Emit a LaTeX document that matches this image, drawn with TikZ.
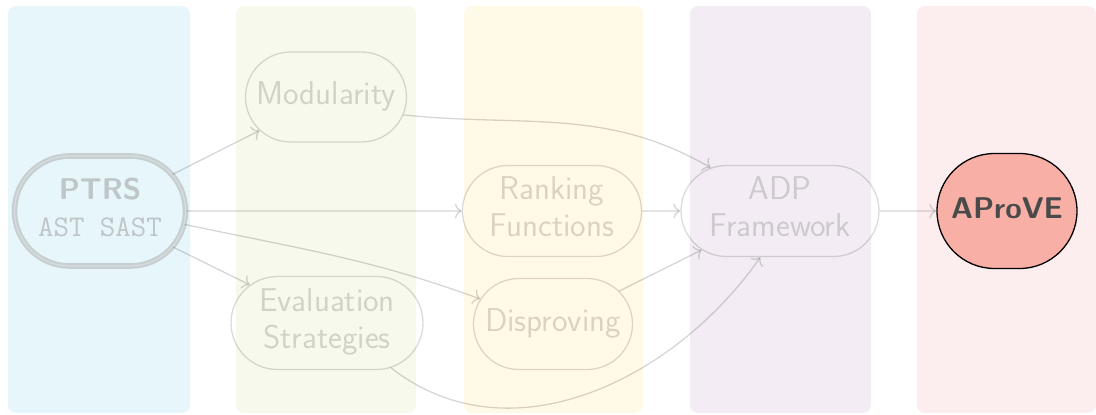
\documentclass[tikz,border=0pt]{standalone}
\usepackage{fontspec}
\usetikzlibrary{shapes.misc,arrows.meta}
\definecolor{laneA}{HTML}{E6F6FA}
\definecolor{laneB}{HTML}{F7F9EC}
\definecolor{laneC}{HTML}{FFF9E7}
\definecolor{laneD}{HTML}{F3ECF4}
\definecolor{laneE}{HTML}{FCEEEF}
\definecolor{ptrsline}{HTML}{C8CFD0}
\definecolor{ptrsinner}{HTML}{D6DDDE}
\definecolor{ptrstext}{HTML}{BFC6C7}
\definecolor{toolfill}{HTML}{F8AFA6}
\definecolor{tooltext}{HTML}{4A4A4A}
% zero-width centred label, so the stadium size comes from minimum width alone
\newcommand{\lbl}[1]{\makebox[0pt]{\begin{tabular}{@{}c@{}}#1\end{tabular}}}
\begin{document}
\begin{tikzpicture}[x=1pt,y=1pt,
  lane/.style={rounded corners=8pt, draw=none},
  stadium/.style={rounded rectangle, inner xsep=0pt, inner ysep=0pt,
    font=\sffamily\fontsize{33}{37}\selectfont},
  stage/.style={stadium, draw=black, draw opacity=0.14,
    text=black, text opacity=0.15, line width=1.3pt},
  link/.style={draw=black, draw opacity=0.16, line width=1.3pt,
    -{To[length=7pt,width=15pt]}},
]
\useasboundingbox (0,0) rectangle (1096,-415);

% swim lanes
\fill[lane, laneA] (8,-6) rectangle (190,-413);
\fill[lane, laneB] (236,-6) rectangle (416,-413);
\fill[lane, laneC] (464,-6) rectangle (643,-413);
\fill[lane, laneD] (690,-6) rectangle (871,-413);
\fill[lane, laneE] (917,-6) rectangle (1096,-413);

% stages
\node[stadium, draw=ptrsline, double=ptrsinner, double distance=1.2pt,
  line width=2.2pt, minimum width=171pt, minimum height=110pt, text=ptrstext,
  font=\sffamily\fontsize{30}{37}\selectfont]
  (ptrs) at (100,-211) {\lbl{\bfseries PTRS\\{\ttfamily\mdseries AST SAST}}};
\node[stage, minimum width=161pt, minimum height=90pt] (mod) at (326,-97) {\lbl{Modularity}};
\node[stage, minimum width=179pt, minimum height=91pt] (rank) at (552,-211) {\lbl{Ranking\\Functions}};
\node[stage, minimum width=192pt, minimum height=93pt] (eval) at (327,-323) {\lbl{Evaluation\\Strategies}};
\node[stage, minimum width=159pt, minimum height=91pt] (dis) at (553,-324) {\lbl{Disproving}};
\node[stage, minimum width=198pt, minimum height=91pt] (adp) at (780,-211) {\lbl{ADP\\Framework}};
\node[stadium, draw=black, line width=1.3pt, fill=toolfill,
  minimum width=140pt, minimum height=115pt, text=tooltext,
  font=\sffamily\bfseries\fontsize{30}{36}\selectfont]
  (tool) at (1007,-211) {\lbl{AProVE}};

% connections
\draw[link] (ptrs) -- (mod);
\draw[link] (ptrs) -- (rank);
\draw[link] (ptrs) -- (eval);
\draw[link] (ptrs.-9) to[out=-12, in=160] (dis.161);
\draw[link] (mod.-13) to[out=-6, in=150] (adp.148);
\draw[link] (rank) -- (adp);
\draw[link] (dis) -- (adp);
\draw[link] (eval.-35) to[out=-38, in=-125] (adp.-113);
\draw[link] (adp) -- (tool);
\end{tikzpicture}
\end{document}
